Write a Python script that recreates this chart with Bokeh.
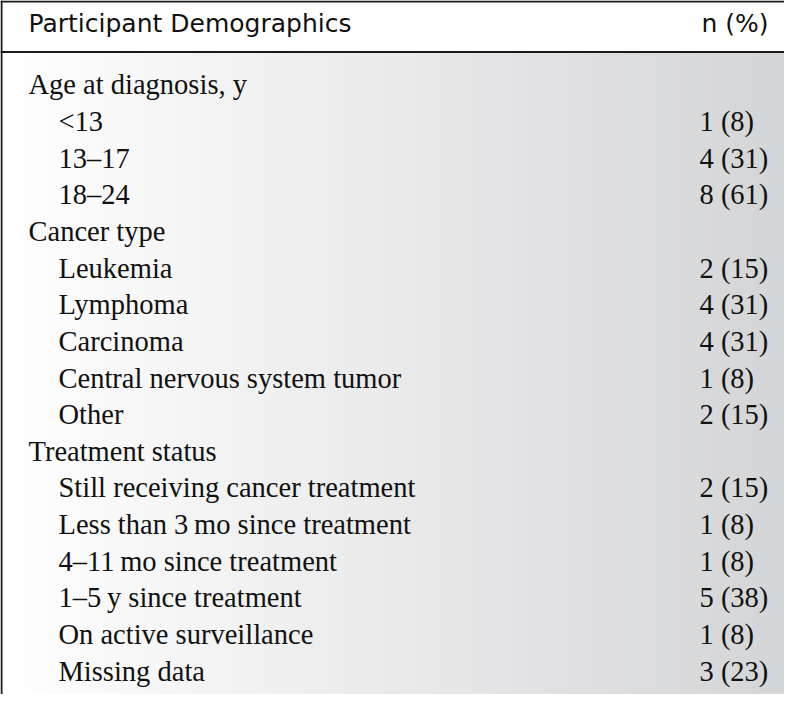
from bokeh.plotting import figure
from bokeh.models import Range1d, ColumnDataSource
from bokeh.core.properties import value
from bokeh.embed import file_html
from bokeh.resources import INLINE

# ---- data ----
header_left = "Participant Demographics"
header_right = "n (%)"
labels = ["Age at diagnosis, y", "<13", "13\u201317", "18\u201324",
          "Cancer type", "Leukemia", "Lymphoma", "Carcinoma",
          "Central nervous system tumor", "Other",
          "Treatment status", "Still receiving cancer treatment",
          "Less than 3\u2009mo since treatment", "4\u201311\u2009mo since treatment",
          "1\u20135\u2009y since treatment", "On active surveillance", "Missing data"]
levels = [0, 1, 1, 1, 0, 1, 1, 1, 1, 1, 0, 1, 1, 1, 1, 1, 1]
counts = [None, 1, 4, 8, None, 2, 4, 4, 1, 2, None, 2, 1, 1, 5, 1, 3]
percents = [None, 8, 31, 61, None, 15, 31, 31, 8, 15, None, 15, 8, 8, 38, 8, 23]

# ---- layout (reference pixel coordinates) ----
W, H = 784, 694
X0, X1 = 0, 784
Y0, Y1 = 0, 694
first_baseline = 93.3
row_step = 36.65
header_line_y = 51.5
text_shift = -9  # compensate renderer baseline offset

p = figure(width=W, height=H, x_range=Range1d(X0, X1), y_range=Range1d(Y1, Y0),
           output_backend="svg", toolbar_location=None, min_border=0,
           x_axis_location=None, y_axis_location=None)
p.grid.visible = False
p.outline_line_color = None
p.background_fill_color = "white"
p.border_fill_color = "white"

# gradient body background (white -> light grey, left to right)
c0 = (255, 255, 255)
c1 = (211, 212, 214)
step = 2
lefts, rights, cols = [], [], []
for xs in range(0, 800, step):
    t = (xs + step / 2) / 800.0
    r = round(c0[0] + (c1[0] - c0[0]) * t)
    g = round(c0[1] + (c1[1] - c0[1]) * t)
    b = round(c0[2] + (c1[2] - c0[2]) * t)
    lefts.append(xs)
    rights.append(xs + step + 0.5)
    cols.append("#%02x%02x%02x" % (r, g, b))
p.quad(left=lefts, right=rights, top=[header_line_y] * len(lefts),
       bottom=[Y1 + 2] * len(lefts), fill_color=cols, line_color=None)

# borders
p.segment(x0=[X0, X0], y0=[Y0 + 1, header_line_y], x1=[X1 + 2, X1 + 2],
          y1=[Y0 + 1, header_line_y], line_color="#1a1a1a", line_width=2)
p.segment(x0=[X0 + 1], y0=[Y0], x1=[X0 + 1], y1=[Y1 + 2],
          line_color="#1a1a1a", line_width=2)

# header
hy = 32 + text_shift
p.text(x=[28], y=[hy], text=[header_left], text_font=value("DejaVu Sans"),
       text_font_size="25px", text_baseline="alphabetic", text_align="left",
       text_color="#111111")
p.text(x=[768], y=[hy], text=[header_right], text_font=value("DejaVu Sans"),
       text_font_size="25px", text_baseline="alphabetic", text_align="right",
       text_color="#111111")

# rows
ys = [first_baseline + text_shift + i * row_step for i in range(len(labels))]
xs = [28 if lv == 0 else 58 for lv in levels]
src = ColumnDataSource(dict(x=xs, y=ys, label=labels))
p.text(x="x", y="y", text="label", source=src, text_font=value("Liberation Serif"),
       text_font_size="28.5px", text_baseline="alphabetic", text_align="left",
       text_color="#111111")

vy, vt = [], []
for yv, c, pc in zip(ys, counts, percents):
    if c is not None:
        vy.append(yv)
        vt.append(f"{c} ({pc})")
p.text(x=[699] * len(vy), y=vy, text=vt, text_font=value("Liberation Serif"),
       text_font_size="28.5px", text_baseline="alphabetic", text_align="left",
       text_color="#111111")

open("out.html", "w").write(file_html(p, INLINE))
